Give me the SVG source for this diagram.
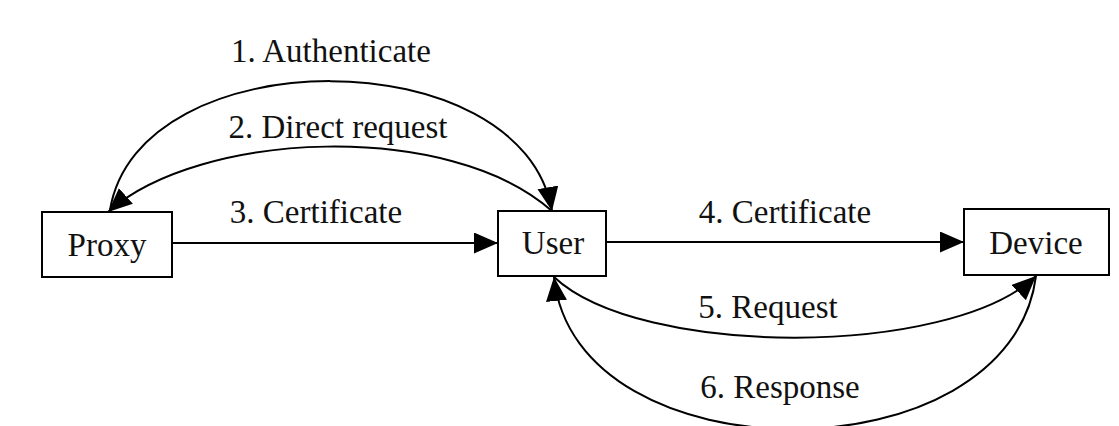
<svg xmlns="http://www.w3.org/2000/svg" width="1119" height="426" viewBox="0 0 1119 426">
<style>
.box{fill:#fff;stroke:#000;stroke-width:2}
.t{font-family:"Liberation Serif","Times New Roman",serif;font-size:33px;fill:#111;text-anchor:middle}
.c{fill:none;stroke:#000;stroke-width:2}
</style>
<defs>
<marker id="ah" markerUnits="userSpaceOnUse" markerWidth="26" markerHeight="22" refX="24" refY="10.5" orient="auto">
<path d="M0,0 L24,10.5 L0,21 Z" fill="#000"/>
</marker>
</defs>
<rect width="1119" height="426" fill="#fff"/>
<g id="connectors">
<path class="c" d="M110,210 C138,38 522,38 552,211" marker-end="url(#ah)"/>
<path class="c" d="M552,211 C450,120 200,130 108,212" marker-end="url(#ah)"/>
<path class="c" d="M172,243 L498,243" marker-end="url(#ah)"/>
<path class="c" d="M606,242 L964,242" marker-end="url(#ah)"/>
<path class="c" d="M554,277 C640,358 950,358 1036,276" marker-end="url(#ah)"/>
<path class="c" d="M1036,276 C1010,480 575,480 554,277" marker-end="url(#ah)"/>
<text class="t" x="331" y="62">1. Authenticate</text>
<text class="t" x="338" y="138">2. Direct request</text>
<text class="t" x="316" y="223">3. Certificate</text>
<text class="t" x="785" y="223">4. Certificate</text>
<text class="t" x="768" y="318">5. Request</text>
<text class="t" x="780" y="398">6. Response</text>
</g>
<g id="proxy">
<rect class="box" x="42" y="212" width="130" height="65"/>
<text class="t" x="107" y="256">Proxy</text>
</g>
<g id="user">
<rect class="box" x="498" y="211" width="108" height="65"/>
<text class="t" x="553" y="254">User</text>
</g>
<g id="device">
<rect class="box" x="964" y="209" width="145" height="66"/>
<text class="t" x="1036" y="254">Device</text>
</g>
</svg>
